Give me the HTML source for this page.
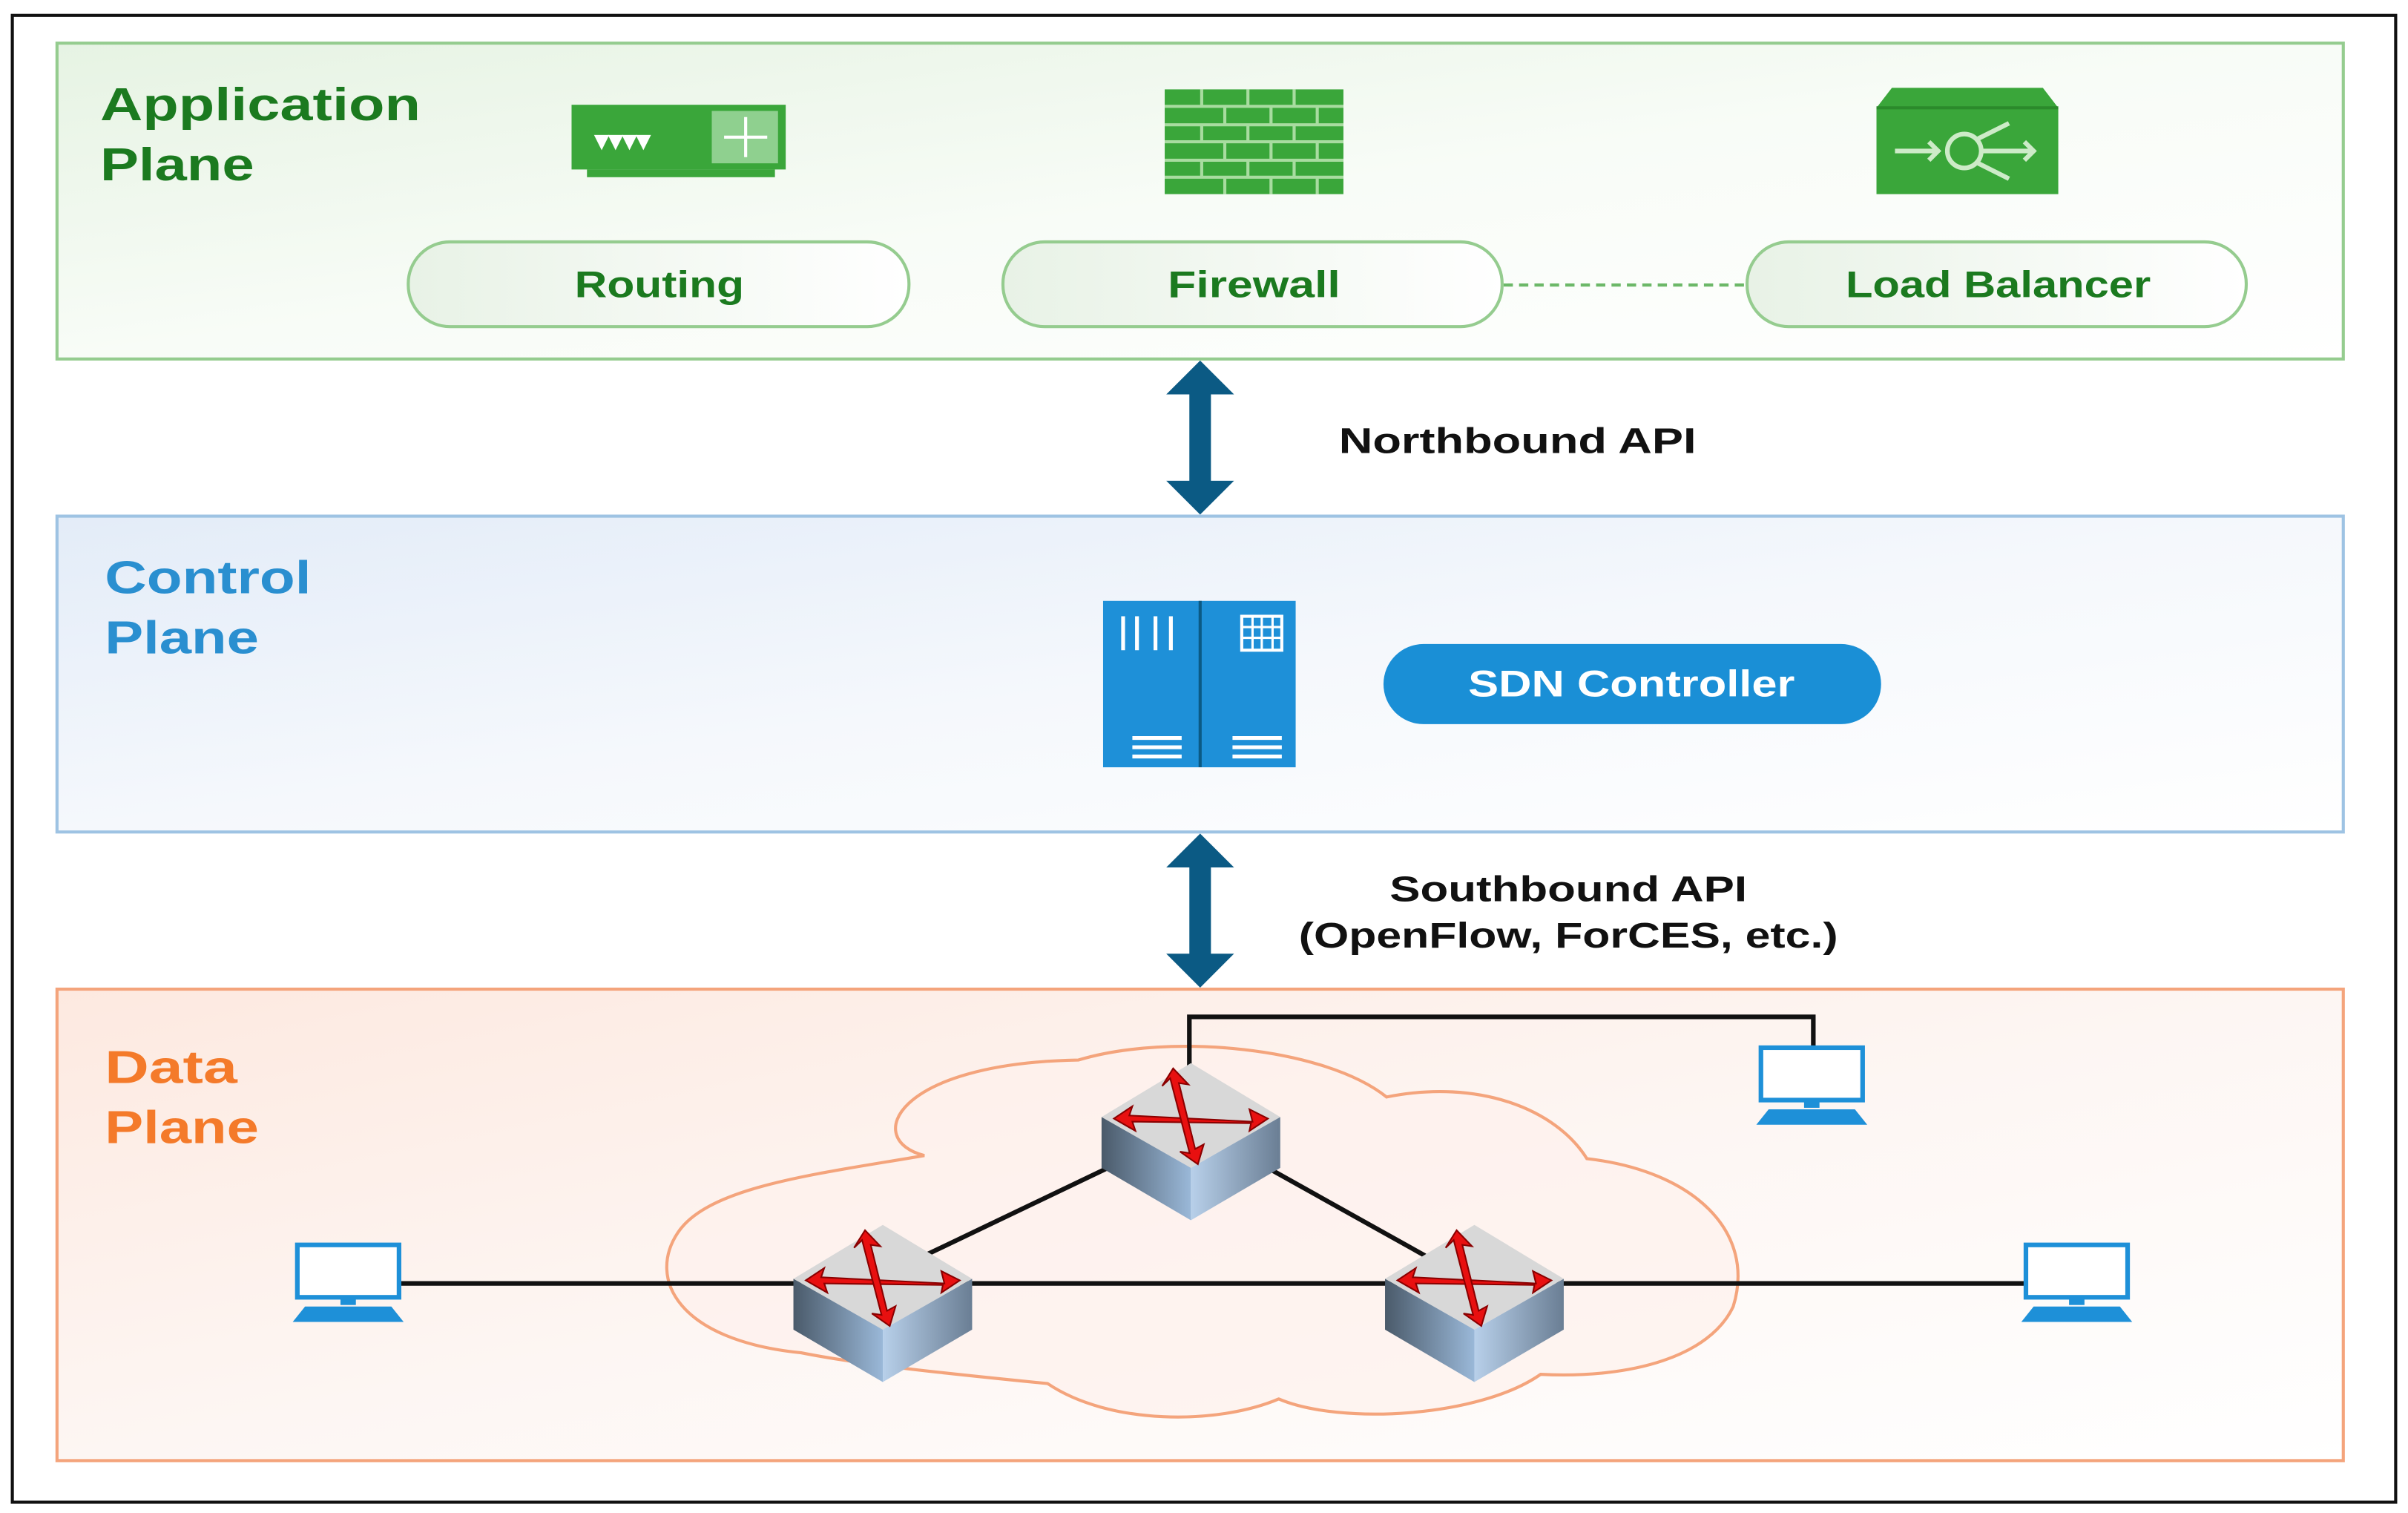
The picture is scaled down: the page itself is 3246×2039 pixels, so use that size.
<!DOCTYPE html>
<html><head><meta charset="utf-8"><style>html,body{margin:0;padding:0;background:#fff}svg{display:block}</style></head>
<body>
<svg width="3246" height="2039" viewBox="0 0 1563 982" preserveAspectRatio="none" xmlns="http://www.w3.org/2000/svg" font-family="Liberation Sans, sans-serif" font-weight="bold">
<defs>
<linearGradient id="gG" x1="0" y1="0" x2="1" y2="1"><stop offset="0" stop-color="#e6f3e3"/><stop offset="0.5" stop-color="#f8fcf7"/><stop offset="1" stop-color="#ffffff"/></linearGradient>
<linearGradient id="gB" x1="0" y1="0" x2="1" y2="1"><stop offset="0" stop-color="#e3ecf8"/><stop offset="0.5" stop-color="#f5f8fc"/><stop offset="1" stop-color="#ffffff"/></linearGradient>
<linearGradient id="gO" x1="0" y1="0" x2="1" y2="1"><stop offset="0" stop-color="#fde9e0"/><stop offset="0.5" stop-color="#fdf6f3"/><stop offset="1" stop-color="#ffffff"/></linearGradient>
<linearGradient id="pill" x1="0" y1="0" x2="1" y2="0"><stop offset="0" stop-color="#e8f2e6"/><stop offset="1" stop-color="#ffffff"/></linearGradient>
<linearGradient id="swL" x1="0" y1="0" x2="1" y2="0"><stop offset="0" stop-color="#4a5a6a"/><stop offset="1" stop-color="#9ab8d8"/></linearGradient>
<linearGradient id="swR" x1="0" y1="0" x2="1" y2="0"><stop offset="0" stop-color="#b8d0ea"/><stop offset="1" stop-color="#6a7e94"/></linearGradient>
<g id="sw">
<polygon points="-58,-5 0,-40 58,-5 0,28" fill="#d8d8d8"/>
<polygon points="-58,-5 0,28 0,62 -58,28" fill="url(#swL)"/>
<polygon points="58,-5 0,28 0,62 58,28" fill="url(#swR)"/>
<g stroke="#8a0000" stroke-width="1" fill="#e81010">
<path d="M-40,-6 L40,-2 L38,-10 L50,-4 L38,4 L39,-1 L-38,-2 L-36,4 L-50,-4 L-38,-12 Z"/>
<path d="M-8,-32 L-4,18 L-10,16 L0,26 L6,14 L0,16 L-3,-28 L3,-26 L-5,-38 L-14,-28 Z" transform="rotate(-10)"/>
</g>
</g>
<g id="mon" fill="none" stroke="#1e90d8">
<rect x="3" y="0" width="66" height="34" stroke-width="3" fill="#fff"/>
<rect x="31" y="34" width="10" height="5" fill="#1e90d8" stroke="none"/>
<polygon points="8,40 64,40 72,50 0,50" fill="#1e90d8" stroke="none"/>
</g>
</defs>

<rect x="8" y="10" width="1547" height="965" fill="#fff" stroke="#111" stroke-width="2"/>

<!-- Application plane -->
<rect x="37" y="28" width="1484" height="205" fill="url(#gG)" stroke="#95cc8f" stroke-width="2"/>
<text x="65" y="78" font-size="30" fill="#1b7a1f" textLength="208" lengthAdjust="spacingAndGlyphs">Application</text>
<text x="65" y="117" font-size="30" fill="#1b7a1f" textLength="100" lengthAdjust="spacingAndGlyphs">Plane</text>
<!-- router icon -->
<rect x="371" y="68" width="139" height="42" fill="#3aa63a"/>
<rect x="381" y="110" width="122" height="5" fill="#3aa63a"/>
<rect x="462" y="72" width="43" height="34" fill="#8fd08f"/>
<text x="386" y="97" font-size="18" fill="#fff">▾▾▾▾</text>
<path d="M470,89 H498 M484,76 V102" stroke="#fff" stroke-width="2"/>
<!-- firewall -->
<rect x="756" y="58" width="116" height="68" fill="#3aa63a"/>
<g stroke="#a8dca0" stroke-width="2">
<path d="M756,69 H872 M756,81 H872 M756,92 H872 M756,104 H872 M756,115 H872"/>
<path d="M780,58v11 M810,58v11 M840,58v11 M795,69v12 M825,69v12 M855,69v12 M780,81v11 M810,81v11 M840,81v11 M795,92v12 M825,92v12 M855,92v12 M780,104v11 M810,104v11 M840,104v11 M795,115v11 M825,115v11 M855,115v11"/>
</g>
<!-- load balancer -->
<polygon points="1218,70 1228,57 1326,57 1336,70 1336,126 1218,126" fill="#3aa63a"/>
<path d="M1218,70 H1336" stroke="#2b8a2b" stroke-width="2"/>
<g stroke="#cdebc8" stroke-width="3" fill="none">
<path d="M1230,98 H1258 M1252,92 L1258,98 L1252,104"/>
<circle cx="1275" cy="98" r="11"/>
<path d="M1286,98 H1320 M1314,92 L1320,98 L1314,104 M1284,90 L1304,80 M1284,106 L1304,116"/>
</g>
<!-- pills -->
<g stroke="#95cc8f" stroke-width="2" fill="url(#pill)">
<rect x="265" y="157" width="325" height="55" rx="27"/>
<rect x="651" y="157" width="324" height="55" rx="27"/>
<rect x="1134" y="157" width="324" height="55" rx="27"/>
</g>
<line x1="976" y1="185" x2="1134" y2="185" stroke="#6cb868" stroke-width="2" stroke-dasharray="6,4"/>
<g font-size="24" fill="#1b7a1f" text-anchor="middle">
<text x="428" y="193" textLength="110" lengthAdjust="spacingAndGlyphs">Routing</text>
<text x="814" y="193" textLength="112" lengthAdjust="spacingAndGlyphs">Firewall</text>
<text x="1297" y="193" textLength="198" lengthAdjust="spacingAndGlyphs">Load Balancer</text>
</g>

<!-- arrows -->
<g fill="#0b5a84">
<polygon points="779,234 801,256 786,256 786,312 801,312 779,334 757,312 772,312 772,256 757,256"/>
<polygon points="779,541 801,563 786,563 786,619 801,619 779,641 757,619 772,619 772,563 757,563"/>
</g>
<text x="869" y="294" font-size="23" fill="#111" textLength="232" lengthAdjust="spacingAndGlyphs">Northbound API</text>
<text x="1018" y="585" font-size="23" fill="#111" text-anchor="middle" textLength="232" lengthAdjust="spacingAndGlyphs">Southbound API</text>
<text x="1018" y="615" font-size="23" fill="#111" text-anchor="middle" textLength="350" lengthAdjust="spacingAndGlyphs">(OpenFlow, ForCES, etc.)</text>

<!-- Control plane -->
<rect x="37" y="335" width="1484" height="205" fill="url(#gB)" stroke="#9ec3e3" stroke-width="2"/>
<text x="68" y="385" font-size="30" fill="#2a8fd0" textLength="134" lengthAdjust="spacingAndGlyphs">Control</text>
<text x="68" y="424" font-size="30" fill="#2a8fd0" textLength="100" lengthAdjust="spacingAndGlyphs">Plane</text>
<rect x="716" y="390" width="125" height="108" fill="#1e90d8"/>
<line x1="779" y1="390" x2="779" y2="498" stroke="#0b5a84" stroke-width="2"/>
<g stroke="#fff" stroke-width="2.5">
<path d="M729,400v22 M738,400v22 M750,400v22 M760,400v22"/>
<path d="M735,479h32 M735,485h32 M735,491h32 M800,479h32 M800,485h32 M800,491h32"/>
</g>
<rect x="806" y="400" width="26" height="22" fill="none" stroke="#fff" stroke-width="2"/>
<path d="M806,407h26 M806,414h26 M813,400v22 M819,400v22 M826,400v22" stroke="#fff" stroke-width="1.5"/>
<rect x="898" y="418" width="323" height="52" rx="26" fill="#1a8fd6"/>
<text x="1059" y="452" font-size="24" fill="#fff" text-anchor="middle" textLength="212" lengthAdjust="spacingAndGlyphs">SDN Controller</text>

<!-- Data plane -->
<rect x="37" y="642" width="1484" height="306" fill="url(#gO)" stroke="#f4a47c" stroke-width="2"/>
<text x="68" y="703" font-size="30" fill="#f47a2a" textLength="86" lengthAdjust="spacingAndGlyphs">Data</text>
<text x="68" y="742" font-size="30" fill="#f47a2a" textLength="100" lengthAdjust="spacingAndGlyphs">Plane</text>
<path d="M600,750 C560,740 580,690 700,688 C760,670 860,680 900,712 C960,700 1010,720 1030,752 C1100,760 1140,800 1125,848 C1110,880 1060,895 1000,892 C960,920 870,925 830,908 C790,925 720,925 680,898 C620,892 560,886 520,878 C440,870 420,830 440,800 C460,770 530,762 600,750 Z" fill="#fdf1ec" fill-opacity="0.7" stroke="#f4a47c" stroke-width="2"/>
<g stroke="#111" stroke-width="3" fill="none">
<path d="M772,697 V660 H1177 V680"/>
<line x1="260" y1="833" x2="520" y2="833"/>
<line x1="600" y1="833" x2="920" y2="833"/>
<line x1="1010" y1="833" x2="1315" y2="833"/>
<line x1="600" y1="815" x2="740" y2="748"/>
<line x1="805" y1="748" x2="925" y2="815"/>
</g>
<use href="#sw" x="773" y="730"/>
<use href="#sw" x="573" y="835"/>
<use href="#sw" x="957" y="835"/>
<use href="#mon" x="190" y="808"/>
<use href="#mon" x="1140" y="680"/>
<use href="#mon" x="1312" y="808"/>
</svg>
</body></html>
